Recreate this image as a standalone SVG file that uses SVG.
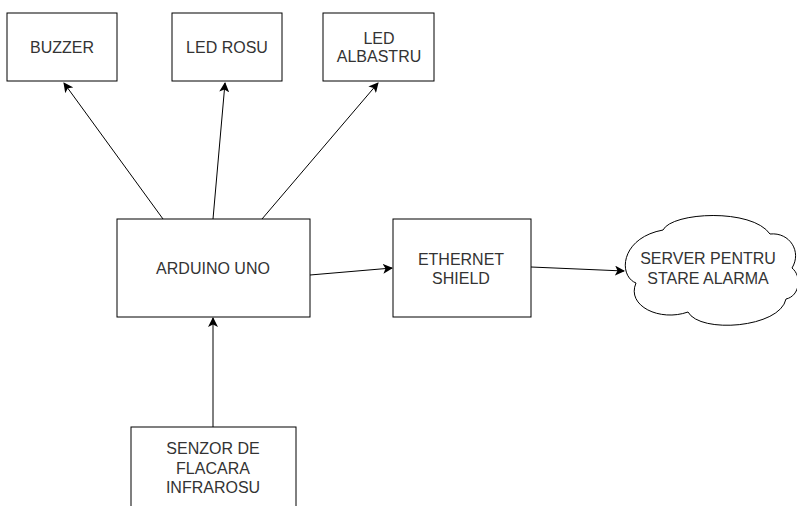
<svg xmlns="http://www.w3.org/2000/svg" width="797" height="506" viewBox="0 0 797 506">
<defs>
<style>
.box{fill:#fff;stroke:#000;stroke-width:1}
.t{font-family:"Liberation Sans",Arial,sans-serif;font-size:16px;fill:#333;text-anchor:middle}
.c{fill:none;stroke:#000;stroke-width:1}
</style>
<marker id="ah" viewBox="0 0 10 10" refX="9" refY="5" markerWidth="10" markerHeight="10" markerUnits="userSpaceOnUse" orient="auto">
<path d="M0,0 L10,5 L0,10 L2.5,5 Z" fill="#000"/>
</marker>
</defs>
<rect width="797" height="506" fill="#fff"/>
<g id="connectors">
<line class="c" x1="163" y1="219" x2="64" y2="83" marker-end="url(#ah)"/>
<line class="c" x1="213" y1="219" x2="225" y2="83" marker-end="url(#ah)"/>
<line class="c" x1="262" y1="219" x2="378" y2="83" marker-end="url(#ah)"/>
<line class="c" x1="310" y1="275" x2="392" y2="268" marker-end="url(#ah)"/>
<line class="c" x1="531" y1="267" x2="624" y2="271" marker-end="url(#ah)"/>
<line class="c" x1="213" y1="427" x2="213" y2="318" marker-end="url(#ah)"/>
</g>
<g id="buzzer">
<rect class="box" x="7" y="13" width="110" height="68"/>
<text class="t" x="62" y="53">BUZZER</text>
</g>
<g id="led-rosu">
<rect class="box" x="172" y="13" width="110" height="68"/>
<text class="t" x="227" y="53">LED ROSU</text>
</g>
<g id="led-albastru">
<rect class="box" x="323" y="13" width="111" height="68"/>
<text class="t" x="379" y="44">LED</text>
<text class="t" x="379" y="62">ALBASTRU</text>
</g>
<g id="arduino">
<rect class="box" x="117" y="219" width="193" height="98"/>
<text class="t" x="213" y="274">ARDUINO UNO</text>
</g>
<g id="ethernet">
<rect class="box" x="393" y="219" width="138" height="98"/>
<text class="t" x="461" y="265">ETHERNET</text>
<text class="t" x="461" y="284">SHIELD</text>
</g>
<g id="server">
<path class="box" d="M663,230 C672,212 752,208 770,234 C790,232 802,252 792,268 C802,276 800,296 786,299 C780,328 700,334 688,312 C660,322 626,306 636,283 C618,276 620,238 663,230 Z"/>
<text class="t" x="708" y="264">SERVER PENTRU</text>
<text class="t" x="708" y="284">STARE ALARMA</text>
</g>
<g id="senzor">
<rect class="box" x="131" y="427" width="165" height="90"/>
<text class="t" x="213" y="454">SENZOR DE</text>
<text class="t" x="213" y="474">FLACARA</text>
<text class="t" x="213" y="493">INFRAROSU</text>
</g>
</svg>
